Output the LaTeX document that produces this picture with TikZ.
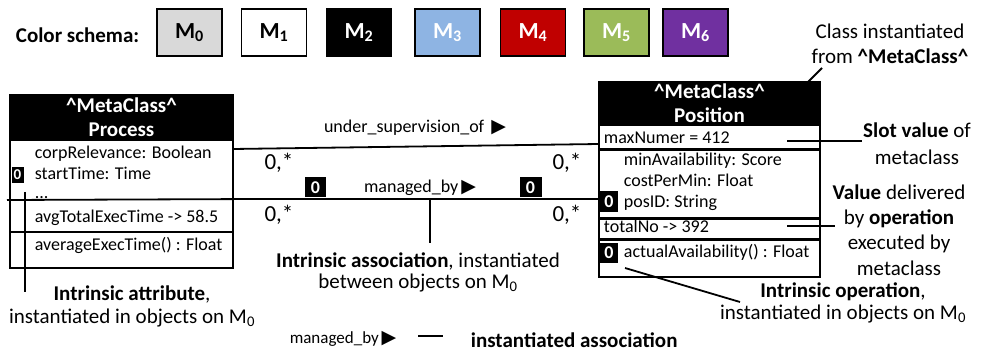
\documentclass[tikz,border=0pt]{standalone}
\usepackage{fontspec}
\setmainfont{Carlito}
\newfontfamily\symfont{DejaVu Sans}
\definecolor{lvlzero}{HTML}{D9D9D9}
\definecolor{lvlthree}{HTML}{8EB4E3}
\definecolor{lvlfour}{HTML}{C00000}
\definecolor{lvlfive}{HTML}{9BBB59}
\definecolor{lvlsix}{HTML}{7030A0}
\newcommand{\tri}{{\symfont\fontsize{19}{19}\selectfont ▶}}
\begin{document}
\begin{tikzpicture}[x=1pt,y=-1pt,line width=1.8pt]
\tikzset{
  lvl/.style={draw=black,line width=1.3pt,minimum width=65pt,minimum height=47pt,inner sep=0pt,
              font=\fontsize{23}{26}\selectfont\bfseries},
  hdr/.style={draw,fill=black,text=white,align=center,inner sep=0pt,
              font=\fontsize{21}{24}\selectfont\bfseries},
  part/.style={inner sep=0pt},
  frame/.style={draw,line width=1.8pt,inner sep=0pt},
  row/.style={font=\fontsize{18}{21}\selectfont,inner sep=0pt,anchor=west,text height=13pt,text depth=4pt},
  mult/.style={font=\fontsize{23}{26}\selectfont,inner sep=0pt},
  badge/.style={fill=black,text=white,inner sep=0pt,font=\fontsize{18}{18}\selectfont\bfseries},
  note/.style={font=\fontsize{21}{25}\selectfont,align=center,inner sep=0pt},
  lbl/.style={font=\fontsize{18}{21}\selectfont,inner sep=0pt},
  ptr/.style={line width=1.8pt},
}
\useasboundingbox (0,0) rectangle (983,355);

% colour legend of the meta levels
\node[inner sep=0pt,anchor=west,font=\fontsize{21}{25}\selectfont\bfseries] (cs) at (15,35) {Color schema:};
\node[lvl,fill=lvlzero] (m0) at (189.5,32.5) {M\textsubscript{0}};
\node[lvl,fill=white] (m1) at (274,32.5) {M\textsubscript{1}};
\node[lvl,fill=black,text=white] (m2) at (359,32.5) {M\textsubscript{2}};
\node[lvl,fill=lvlthree,text=white] (m3) at (447.5,32.5) {M\textsubscript{3}};
\node[lvl,fill=lvlfour,text=white] (m4) at (533,32.5) {M\textsubscript{4}};
\node[lvl,fill=lvlfive,text=white] (m5) at (616.5,32.5) {M\textsubscript{5}};
\node[lvl,fill=lvlsix,text=white] (m6) at (695.5,32.5) {M\textsubscript{6}};

% class Process
\node[frame,minimum width=223pt,minimum height=173pt] (proc) at (121.5,181.5) {};
\node[hdr,minimum width=223pt,minimum height=45pt] (procHead) at (121.5,117.5)
  {\textasciicircum MetaClass\textasciicircum\\Process};
\node[part,minimum width=223pt,minimum height=60pt] (procAttr) at (121.5,170) {};
\node[part,minimum width=223pt,minimum height=31pt] (procVal) at (121.5,215.5) {};
\node[part,minimum width=223pt,minimum height=37pt] (procOps) at (121.5,249.5) {};
\coordinate (procStub) at (7,200);
\draw (procStub) -- (procVal.north east);
\draw (procVal.south west) -- (procVal.south east);
\node[row] (pr1) at (34,154) {corpRelevance: Boolean};
\node[row] (pr2) at (34,175) {startTime: Time};
\node[row] (pr3) at (34,194) {...};
\node[row] (pr4) at (34,218) {avgTotalExecTime -> 58.5};
\node[row] (pr5) at (34,246) {averageExecTime() : Float};
\node[badge,minimum width=12pt,minimum height=16pt,font=\fontsize{15}{15}\selectfont\bfseries] (pb) at (17.5,175) {0};

% class Position
\node[frame,minimum width=221pt,minimum height=195pt] (pos) at (709.5,179.5) {};
\node[hdr,minimum width=221pt,minimum height=43pt] (posHead) at (709.5,103.5)
  {\textasciicircum MetaClass\textasciicircum\\Position};
\node[part,minimum width=221pt,minimum height=23pt] (posSlot) at (709.5,136.5) {};
\node[part,minimum width=221pt,minimum height=66pt] (posAttr) at (709.5,184) {};
\node[part,minimum width=221pt,minimum height=18pt] (posVal) at (709.5,229) {};
\node[part,minimum width=221pt,minimum height=36pt] (posOps) at (709.5,259) {};
\draw[line width=1.5pt] (posSlot.south west) -- (posSlot.south east);
\draw[line width=1.5pt] (posAttr.north west) -- (posAttr.north east);
\draw[line width=1.5pt] (posAttr.south west) -- (posAttr.south east);
\draw[line width=1.5pt] (posVal.north west) -- (posVal.north east);
\draw[line width=1.5pt] (posVal.south west) -- (posVal.south east);
\draw[line width=1.5pt] (posOps.north west) -- (posOps.north east);
\node[row] (ps1) at (603,139) {maxNumer = 412};
\node[row] (ps2) at (623,161) {minAvailability: Score};
\node[row] (ps3) at (623,182) {costPerMin: Float};
\node[row] (ps4) at (623,203) {posID: String};
\node[row] (ps5) at (603,228) {totalNo -> 392};
\node[row] (ps6) at (623,253) {actualAvailability() : Float};
\node[badge,minimum width=18pt,minimum height=21pt] (qb1) at (609,201.5) {0};
\node[badge,minimum width=18pt,minimum height=20pt] (qb2) at (609,253) {0};

% associations between the classes
\coordinate (usA) at (233,149);
\coordinate (usB) at (599,144);
\draw (usA) -- (usB);
\draw (procVal.north east) -- (pos.west |- procVal.north);
\node[lbl] (usl) at (415,128) {under\_supervision\_of\, \tri};
\node[lbl] (mbl) at (420,188) {managed\_by\,\tri};
\node[mult] (mu1) at (279,163) {0,*};
\node[mult] (mu2) at (567,163) {0,*};
\node[mult] (mu3) at (279,215) {0,*};
\node[mult] (mu4) at (567,215) {0,*};
\node[badge,minimum width=21pt,minimum height=20pt] (ab1) at (315.5,187.5) {0};
\node[badge,minimum width=22pt,minimum height=20pt] (ab2) at (530.5,187.5) {0};

% annotations
\node[note] (nClass) at (890,44) {Class instantiated\\from \textbf{\textasciicircum MetaClass\textasciicircum}};
\coordinate (cA) at (822,68);
\coordinate (cB) at (808,82);
\draw[ptr] (cA) -- (cB);

\node[note,font=\fontsize{21}{27}\selectfont] (nSlot) at (917,143.5) {\textbf{Slot value} of\\metaclass};
\coordinate (sA) at (787,141);
\draw[ptr] (sA) -- (nSlot.west |- sA);

\node[note,font=\fontsize{21}{25.3}\selectfont] (nVal) at (899,230) {\textbf{Value} delivered\\by \textbf{operation}\\executed by\\metaclass};
\coordinate (vA) at (787,226);
\coordinate (vB) at (835,226);
\draw[ptr] (vA) -- (vB);

\node[note,font=\fontsize{21}{23}\selectfont] (nAttr) at (132,306.5) {\textbf{Intrinsic attribute},\\instantiated in objects on M\textsubscript{0}};
\coordinate (aA) at (25,192);
\coordinate (aB) at (25,292);
\draw[ptr] (aA) -- (aB);

\node[note,font=\fontsize{21}{21}\selectfont] (nAssoc) at (418,272) {\textbf{Intrinsic association}, instantiated\\between objects on M\textsubscript{0}};
\coordinate (iA) at (430,243);
\draw[ptr] (iA) -- (iA |- procVal.north);

\node[note,font=\fontsize{21}{22}\selectfont] (nOp) at (843,303) {\textbf{Intrinsic operation},\\instantiated in objects on M\textsubscript{0}};
\coordinate (oA) at (625,268);
\coordinate (oB) at (740,302);
\draw[ptr] (oA) -- (oB);

% key for instantiated associations
\node[lbl,font=\fontsize{17}{20}\selectfont] (kl) at (343,339) {managed\_by\,\tri};
\coordinate (kA) at (418,336);
\coordinate (kB) at (443,336);
\draw[ptr] (kA) -- (kB);
\node[inner sep=0pt,anchor=west,font=\fontsize{21}{25}\selectfont\bfseries] (kt) at (470,340) {instantiated association};
\end{tikzpicture}
\end{document}
